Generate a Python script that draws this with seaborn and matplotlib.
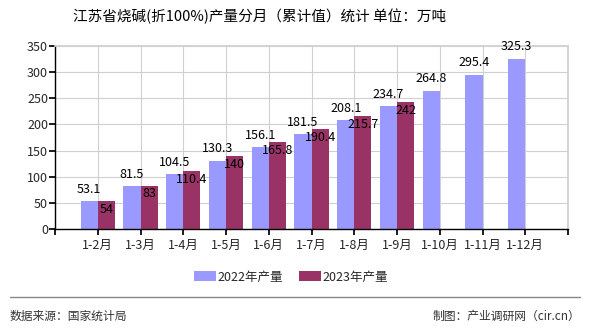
import matplotlib
matplotlib.use("Agg")
import matplotlib.pyplot as plt
import seaborn as sns
import pandas as pd
import numpy as np

categories = ["1-2月", "1-3月", "1-4月", "1-5月", "1-6月", "1-7月", "1-8月", "1-9月", "1-10月", "1-11月", "1-12月"]
values_2022 = [53.1, 81.5, 104.5, 130.3, 156.1, 181.5, 208.1, 234.7, 264.8, 295.4, 325.3]
values_2023 = [54, 83, 110.4, 140, 165.8, 190.4, 215.7, 242, None, None, None]
series_names = ["2022年产量", "2023年产量"]
colors = ["#9999FF", "#993366"]

sns.set_theme(style="white")
plt.rcParams['font.family'] = ['Noto Sans CJK SC', 'DejaVu Sans']

rows = []
for c, v in zip(categories, values_2022):
    rows.append({"cat": c, "val": v, "series": series_names[0]})
for c, v in zip(categories, values_2023):
    rows.append({"cat": c, "val": v, "series": series_names[1]})
df = pd.DataFrame(rows).dropna()

fig = plt.figure(figsize=(5.9, 3.3), dpi=100)
ax = fig.add_axes([55/590, 1-229/330, (568-55)/590, (229-46)/330])
sns.barplot(data=df, x="cat", y="val", hue="series", order=categories,
            hue_order=series_names, palette=colors, width=0.8, gap=0,
            saturation=1, ax=ax, legend=True, linewidth=0)

ax.set_xlim(-1, len(categories))
ax.set_ylim(0, 350)
ax.set_yticks(np.arange(0, 351, 50))
ax.set_xticks(np.arange(-1, len(categories) + 1))
ax.set_xticklabels([""] + categories + [""])
ax.set_xlabel("")
ax.set_ylabel("")
ax.tick_params(axis="both", labelsize=9, length=4, color="black", direction="out",
               bottom=True, left=True)
ax.tick_params(axis="x", pad=3)
ax.tick_params(axis="y", pad=1)
ax.grid(True, color="#d0d0d0", linewidth=0.8)
ax.set_axisbelow(True)
for s in ["top", "right"]:
    ax.spines[s].set_color("#d0d0d0")
for s in ["left", "bottom"]:
    ax.spines[s].set_color("black")
    ax.spines[s].set_linewidth(1)

for i, v in enumerate(values_2022):
    ax.text(i - 0.2, v + 23, f"{v:g}", ha="center", va="center", fontsize=9, color="black")
for i, v in enumerate(values_2023):
    if v is not None:
        ax.text(i + 0.2, v - 16, f"{v:g}", ha="center", va="center", fontsize=9, color="black")

handles, labels = ax.get_legend_handles_labels()
ax.legend_.remove()
fig.legend(handles, labels, loc="center", bbox_to_anchor=(291/590, 1-277/330), ncol=2,
           frameon=False, fontsize=9, handlelength=1.75, handleheight=0.8,
           handletextpad=0.15, columnspacing=1.3)

fig.text(260/590, 1-16/330, "江苏省烧碱(折100%)产量分月（累计值）统计 单位：万吨",
         ha="center", va="center", fontsize=10.5, color="black")
fig.add_artist(plt.Line2D([10/590, 580/590], [1-297/330, 1-297/330], color="#888888", linewidth=1))
fig.text(10/590, 1-316/330, "数据来源：国家统计局", ha="left", va="center", fontsize=8.5, color="#333333")
fig.text(580/590, 1-316/330, "制图：产业调研网（cir.cn）", ha="right", va="center", fontsize=8.5, color="#333333")

fig.savefig("out.png", dpi=100)
